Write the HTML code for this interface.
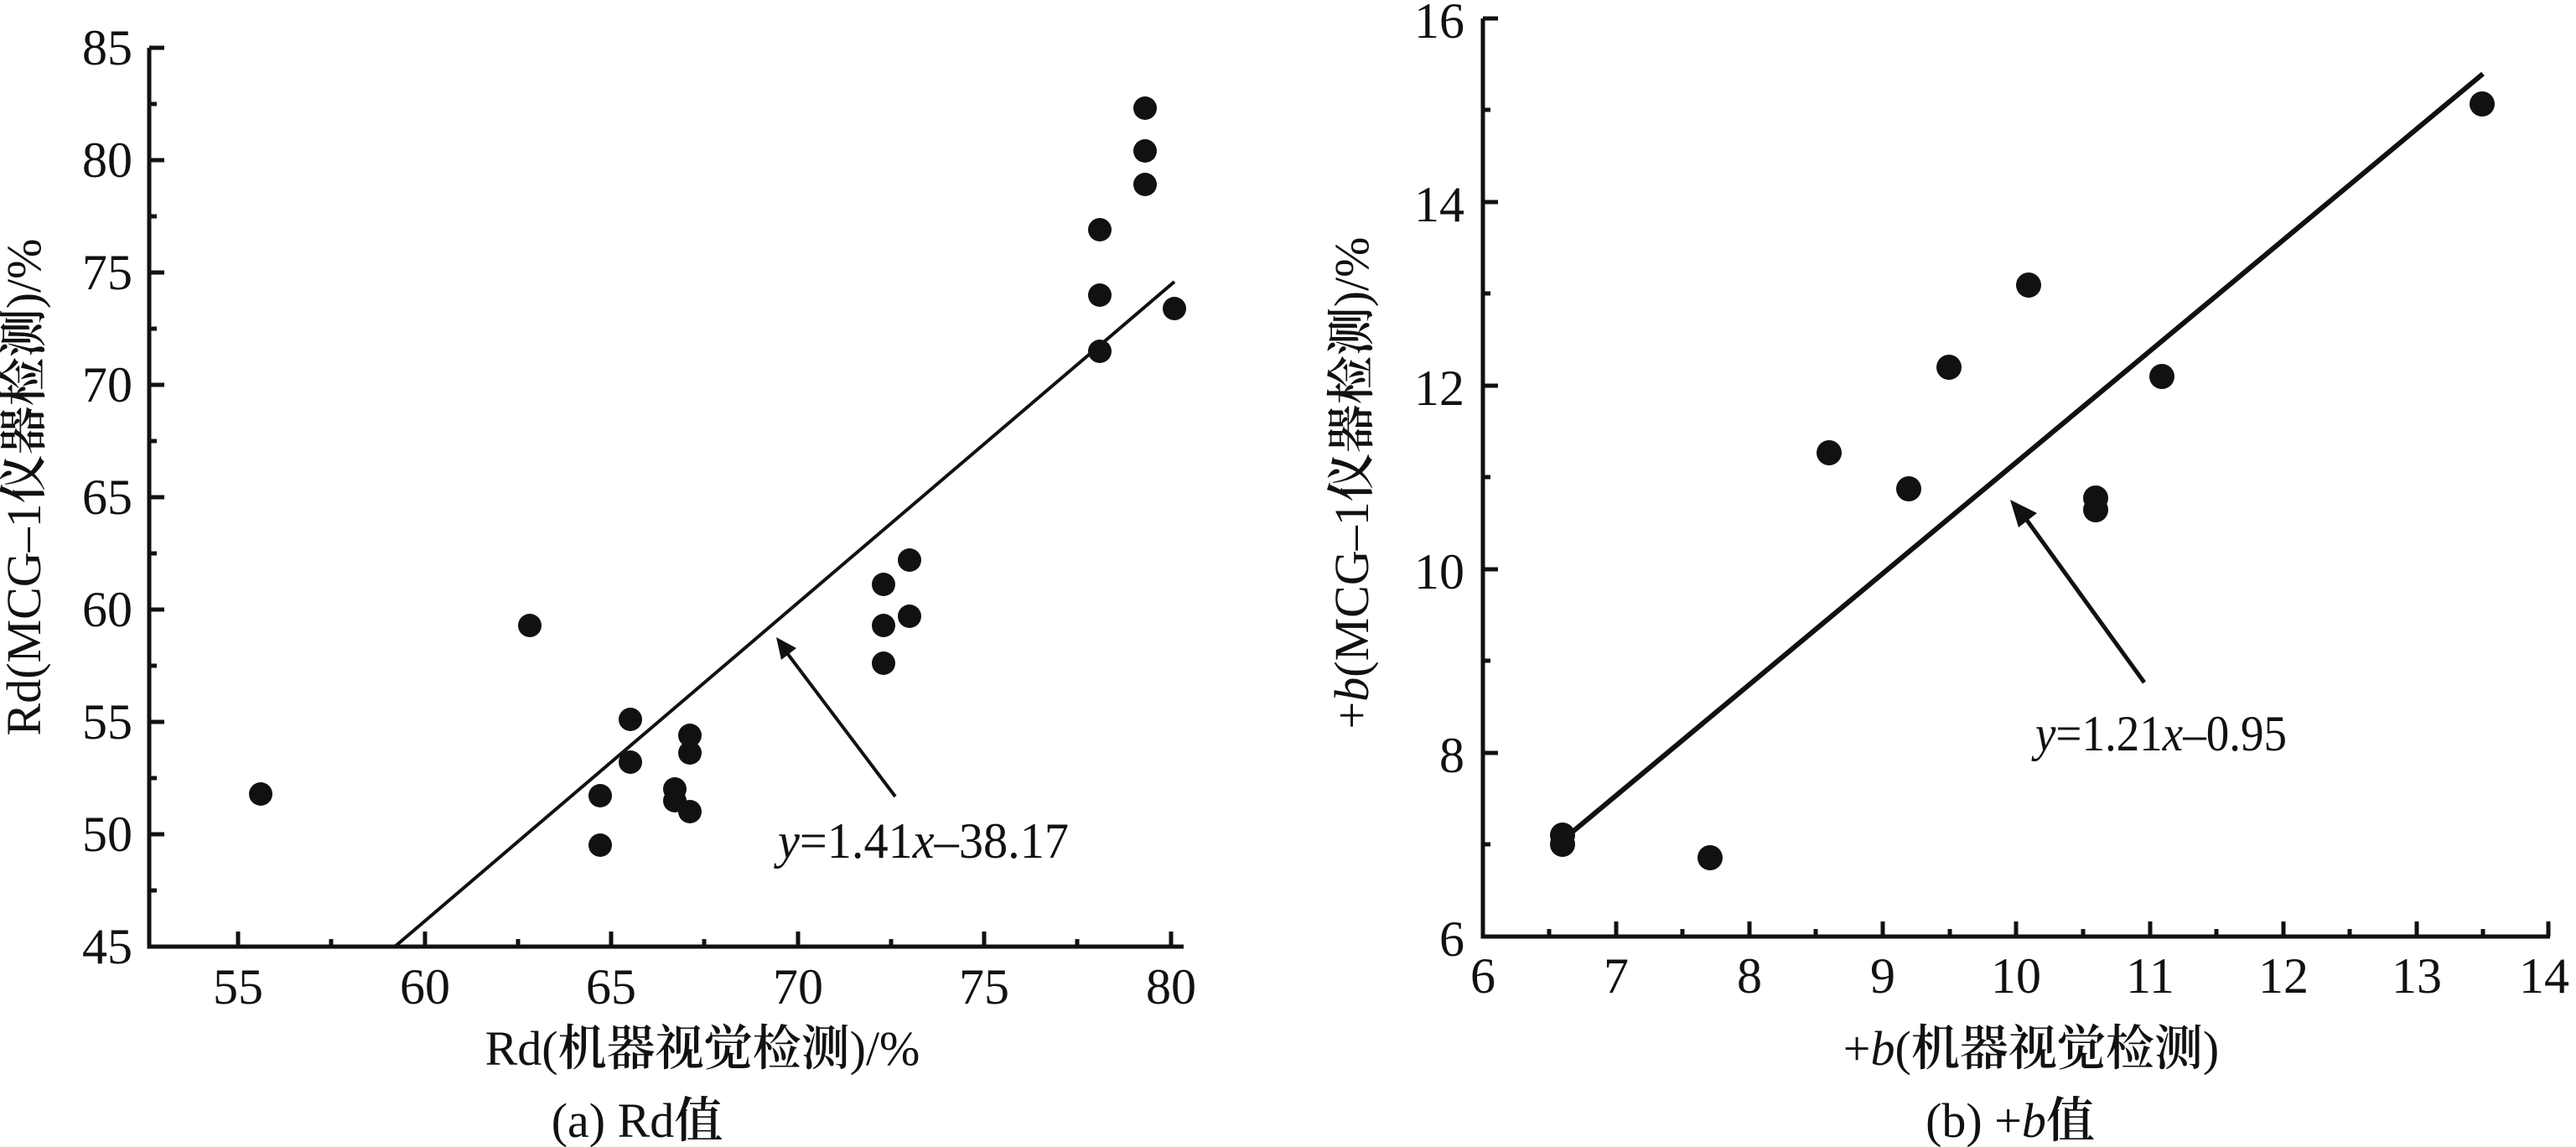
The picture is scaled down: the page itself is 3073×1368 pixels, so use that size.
<!DOCTYPE html>
<html><head><meta charset="utf-8"><style>
html,body{margin:0;padding:0;background:#fff;}
svg{display:block;}
text{font-family:"Liberation Serif","Noto Serif CJK SC",serif;fill:#111;}
.c{font-weight:600;}
</style></head><body>
<svg width="3073" height="1368" viewBox="0 0 3073 1368" xmlns="http://www.w3.org/2000/svg">
<g stroke="#111" stroke-width="5" fill="none">
<path d="M178,57 V1129 H1412"/>
<path d="M178,57h18M178,191h18M178,325h18M178,459h18M178,593h18M178,727h18M178,861h18M178,995h18"/>
<path d="M178,124h9M178,258h9M178,392h9M178,526h9M178,660h9M178,794h9M178,928h9M178,1062h9"/>
<path d="M284,1129v-18M507,1129v-18M729,1129v-18M952,1129v-18M1174,1129v-18M1397,1129v-18"/>
<path d="M395,1129v-9M618,1129v-9M840,1129v-9M1063,1129v-9M1285,1129v-9"/>
<path d="M1769,22 V1117 H3042"/>
<path d="M1769,898h18M1769,679h18M1769,460h18M1769,241h18M1769,22h18"/>
<path d="M1769,1007h9M1769,788h9M1769,569h9M1769,350h9M1769,131h9"/>
<path d="M1928,1117v-18M2087,1117v-18M2246,1117v-18M2405,1117v-18M2565,1117v-18M2724,1117v-18M2883,1117v-18M3040,1117v-18"/>
<path d="M1848,1117v-9M2007,1117v-9M2166,1117v-9M2326,1117v-9M2485,1117v-9M2644,1117v-9M2803,1117v-9M2962,1117v-9"/>
</g>
<line x1="471" y1="1129" x2="1401" y2="336" stroke="#111" stroke-width="4"/>
<line x1="1864" y1="1002" x2="2962" y2="88" stroke="#111" stroke-width="6"/>
<line x1="1068" y1="950" x2="936" y2="775" stroke="#111" stroke-width="4"/>
<polygon points="926,760 950,773 932,787" fill="#111"/>
<line x1="2558" y1="814" x2="2414" y2="615" stroke="#111" stroke-width="5"/>
<polygon points="2398,596 2430,612 2408,629" fill="#111"/>
<g fill="#111">
<circle cx="311" cy="947" r="14"/><circle cx="632" cy="746" r="14"/>
<circle cx="716" cy="949" r="14"/><circle cx="716" cy="1008" r="14"/>
<circle cx="752" cy="858" r="14"/><circle cx="752" cy="909" r="14"/>
<circle cx="805" cy="941" r="14"/><circle cx="805" cy="955" r="14"/>
<circle cx="823" cy="877" r="14"/><circle cx="823" cy="898" r="14"/><circle cx="823" cy="968" r="14"/>
<circle cx="1054" cy="697" r="14"/><circle cx="1054" cy="746" r="14"/><circle cx="1054" cy="791" r="14"/>
<circle cx="1085" cy="668" r="14"/><circle cx="1085" cy="735" r="14"/>
<circle cx="1312" cy="274" r="14"/><circle cx="1312" cy="352" r="14"/><circle cx="1312" cy="419" r="14"/>
<circle cx="1366" cy="129" r="14"/><circle cx="1366" cy="180" r="14"/><circle cx="1366" cy="220" r="14"/>
<circle cx="1401" cy="368" r="14"/>
<circle cx="1864" cy="996" r="15"/><circle cx="1864" cy="1007" r="15"/>
<circle cx="2040" cy="1023" r="15"/><circle cx="2182" cy="540" r="15"/>
<circle cx="2277" cy="583" r="15"/><circle cx="2325" cy="438" r="15"/>
<circle cx="2420" cy="340" r="15"/><circle cx="2500" cy="594" r="15"/>
<circle cx="2500" cy="608" r="15"/><circle cx="2579" cy="449" r="15"/>
<circle cx="2961" cy="124" r="15"/>
</g>
<g font-size="60" text-anchor="end">
<text x="158" y="77">85</text><text x="158" y="211">80</text><text x="158" y="345">75</text>
<text x="158" y="479">70</text><text x="158" y="613">65</text><text x="158" y="747">60</text>
<text x="158" y="881">55</text><text x="158" y="1015">50</text><text x="158" y="1149">45</text>
</g>
<g font-size="60" text-anchor="middle">
<text x="284" y="1197">55</text><text x="507" y="1197">60</text><text x="729" y="1197">65</text>
<text x="952" y="1197">70</text><text x="1174" y="1197">75</text><text x="1397" y="1197">80</text>
</g>
<g font-size="60" text-anchor="end">
<text x="1747" y="1140">6</text><text x="1747" y="921">8</text><text x="1747" y="702">10</text>
<text x="1747" y="483">12</text><text x="1747" y="264">14</text><text x="1747" y="45">16</text>
</g>
<g font-size="60" text-anchor="middle">
<text x="1769" y="1184">6</text><text x="1928" y="1184">7</text><text x="2087" y="1184">8</text>
<text x="2246" y="1184">9</text><text x="2405" y="1184">10</text><text x="2565" y="1184">11</text>
<text x="2724" y="1184">12</text><text x="2883" y="1184">13</text><text x="3035" y="1184">14</text>
</g>
<text x="928" y="1023" font-size="60" textLength="347" lengthAdjust="spacingAndGlyphs"><tspan font-style="italic">y</tspan>=1.41<tspan font-style="italic">x</tspan>–38.17</text>
<text x="2428" y="895" font-size="60" textLength="300" lengthAdjust="spacingAndGlyphs"><tspan font-style="italic">y</tspan>=1.21<tspan font-style="italic">x</tspan>–0.95</text>
<text x="838" y="1270" font-size="58" text-anchor="middle">Rd(<tspan class="c">机器视觉检测</tspan>)/%</text>
<text x="2423" y="1270" font-size="58" text-anchor="middle">+<tspan font-style="italic">b</tspan>(<tspan class="c">机器视觉检测</tspan>)</text>
<text transform="translate(48,581) rotate(-90)" font-size="58" text-anchor="middle">Rd(MCG–1<tspan class="c">仪器检测</tspan>)/%</text>
<text transform="translate(1632,576) rotate(-90)" font-size="58" text-anchor="middle">+<tspan font-style="italic">b</tspan>(MCG–1<tspan class="c">仪器检测</tspan>)/%</text>
<text x="760" y="1356" font-size="58" text-anchor="middle">(a) Rd<tspan class="c">值</tspan></text>
<text x="2398" y="1356" font-size="58" text-anchor="middle">(b) +<tspan font-style="italic">b</tspan><tspan class="c">值</tspan></text>
</svg>
</body></html>
